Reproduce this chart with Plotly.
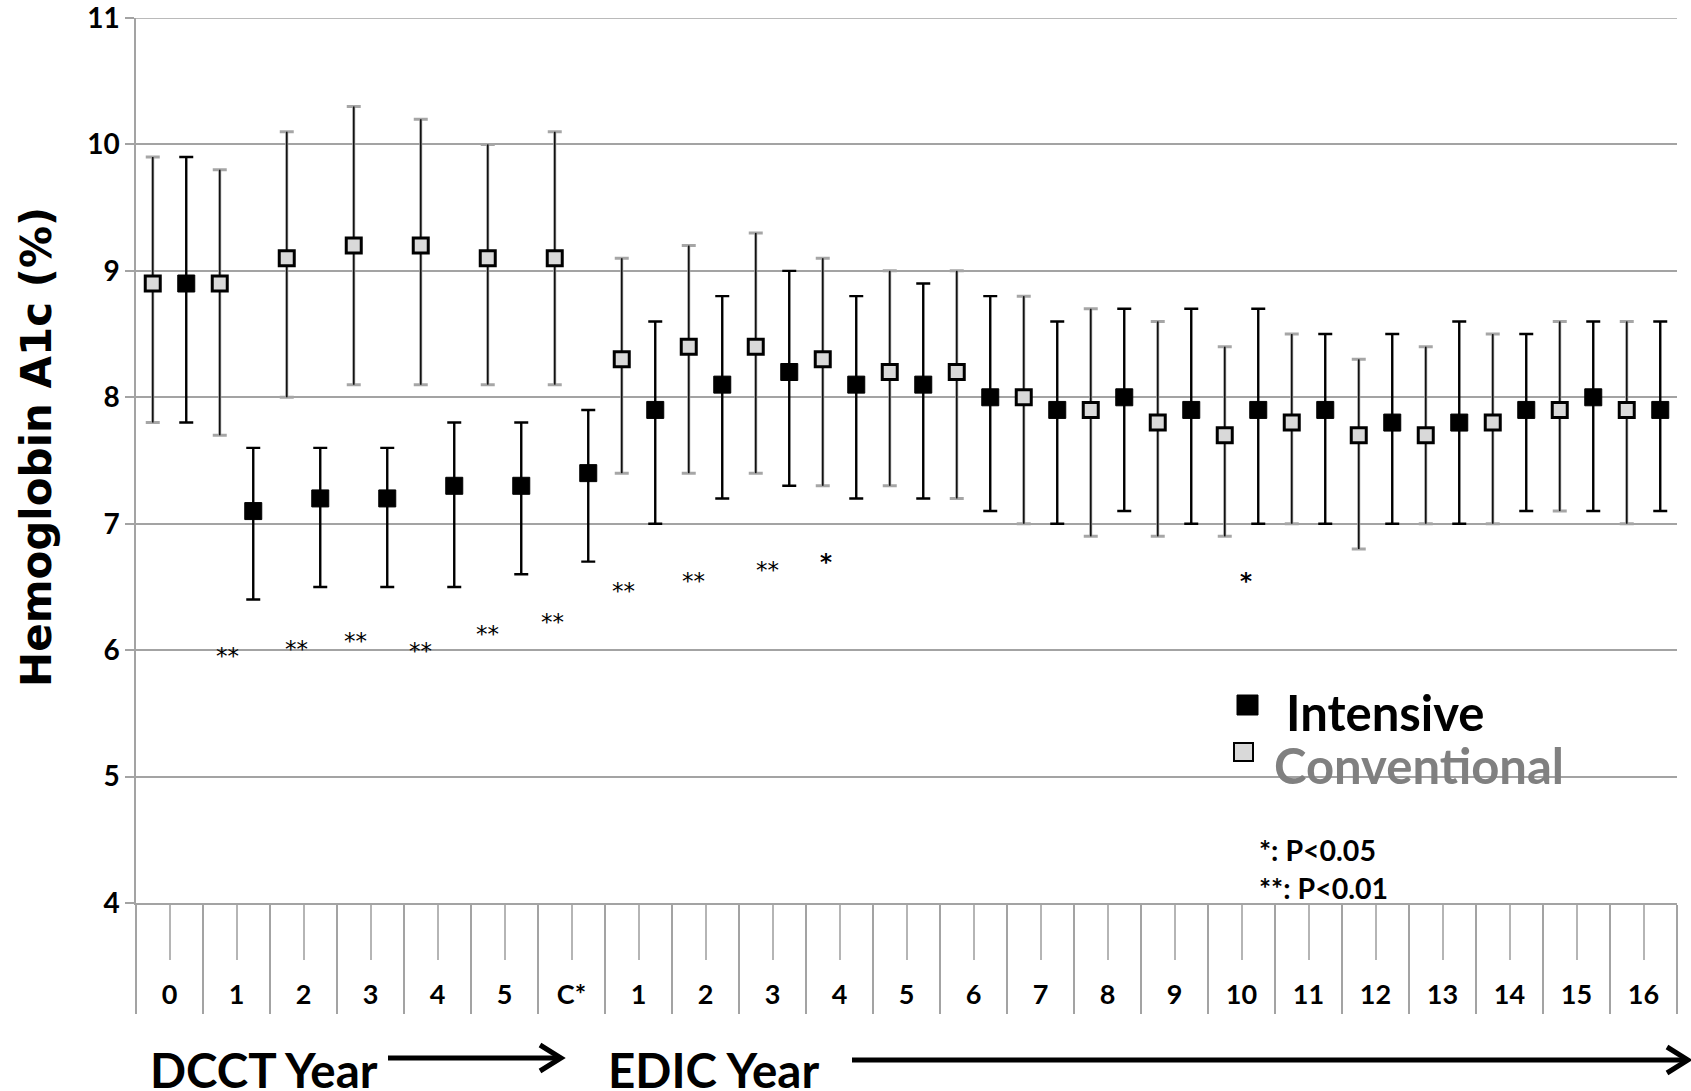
import plotly.graph_objects as go

# ---- data -------------------------------------------------------------
periods = ["0", "1", "2", "3", "4", "5", "C*"] + [str(i) for i in range(1, 17)]

conv_mean = [8.9, 8.9, 9.1, 9.2, 9.2, 9.1, 9.1, 8.3, 8.4, 8.4, 8.3, 8.2,
             8.2, 8.0, 7.9, 7.8, 7.7, 7.8, 7.7, 7.7, 7.8, 7.9, 7.9]
conv_low = [7.8, 7.7, 8.0, 8.1, 8.1, 8.1, 8.1, 7.4, 7.4, 7.4, 7.3, 7.3,
            7.2, 7.0, 6.9, 6.9, 6.9, 7.0, 6.8, 7.0, 7.0, 7.1, 7.0]
conv_high = [9.9, 9.8, 10.1, 10.3, 10.2, 10.0, 10.1, 9.1, 9.2, 9.3, 9.1, 9.0,
             9.0, 8.8, 8.7, 8.6, 8.4, 8.5, 8.3, 8.4, 8.5, 8.6, 8.6]

int_mean = [8.9, 7.1, 7.2, 7.2, 7.3, 7.3, 7.4, 7.9, 8.1, 8.2, 8.1, 8.1,
            8.0, 7.9, 8.0, 7.9, 7.9, 7.9, 7.8, 7.8, 7.9, 8.0, 7.9]
int_low = [7.8, 6.4, 6.5, 6.5, 6.5, 6.6, 6.7, 7.0, 7.2, 7.3, 7.2, 7.2,
           7.1, 7.0, 7.1, 7.0, 7.0, 7.0, 7.0, 7.0, 7.1, 7.1, 7.1]
int_high = [9.9, 7.6, 7.6, 7.6, 7.8, 7.8, 7.9, 8.6, 8.8, 9.0, 8.8, 8.9,
            8.8, 8.6, 8.7, 8.7, 8.7, 8.5, 8.5, 8.6, 8.5, 8.6, 8.6]

# significance marks (x in period units, y in % A1c)
sig_x = [0.86, 1.90, 2.78, 3.75, 4.74, 5.71, 6.78, 7.82, 8.93, 9.80, 16.07]
sig_y = [5.98, 6.03, 6.10, 6.02, 6.15, 6.25, 6.49, 6.57, 6.66, 6.72, 6.57]
sig_text = ["**"] * 9 + ["*", "*"]

Y_MIN, Y_MAX = 4, 11

# ---- geometry ---------------------------------------------------------
W, H = 1691, 1091
ML, MR, MT, MB = 136, 14, 18, 188
PW, PH = W - ML - MR, H - MT - MB


def px(x):
    return (x - ML) / PW


def py(y):
    return (H - MB - y) / PH


n = len(periods)
x_conv = [i - 0.25 for i in range(n)]
x_int = [i + 0.25 for i in range(n)]

conv_up = [h - m for h, m in zip(conv_high, conv_mean)]
conv_dn = [m - l for m, l in zip(conv_mean, conv_low)]
int_up = [h - m for h, m in zip(int_high, int_mean)]
int_dn = [m - l for m, l in zip(int_mean, int_low)]

CONV_FILL = "#d9d9d9"
GRID = "#a3a3a3"
invisible = dict(size=1, color="rgba(0,0,0,0)")

fig = go.Figure()

# conventional: grey caps, then a thin black stem on top, then the squares
fig.add_trace(go.Scatter(
    x=x_conv, y=conv_mean, mode="markers", marker=invisible,
    error_y=dict(type="data", symmetric=False, array=conv_up, arrayminus=conv_dn,
                 color="#a6a6a6", thickness=3, width=7),
    hoverinfo="skip", showlegend=False))
fig.add_trace(go.Scatter(
    x=x_conv, y=conv_mean, mode="markers", marker=invisible,
    error_y=dict(type="data", symmetric=False, array=conv_up, arrayminus=conv_dn,
                 color="#111111", thickness=1.6, width=0),
    hoverinfo="skip", showlegend=False))
fig.add_trace(go.Scatter(
    x=x_conv, y=conv_mean, mode="markers", name="Conventional",
    marker=dict(symbol="square", size=15, color=CONV_FILL,
                line=dict(color="black", width=3)),
    showlegend=False))

# intensive: black bars and squares
fig.add_trace(go.Scatter(
    x=x_int, y=int_mean, mode="markers", name="Intensive",
    marker=dict(symbol="square", size=17, color="black",
                line=dict(color="black", width=1)),
    error_y=dict(type="data", symmetric=False, array=int_up, arrayminus=int_dn,
                 color="black", thickness=2.4, width=7),
    showlegend=False))

annotations = []
for sx, sy, st in zip(sig_x, sig_y, sig_text):
    annotations.append(dict(
        x=sx, y=sy, xref="x", yref="y", text=st, showarrow=False,
        xanchor="center", yanchor="middle", yshift=-3,
        font=dict(family="DejaVu Sans", size=23, color="black",
                  weight="bold" if st == "*" else "normal")))


def label(text, x, y, size, color="black", family="Lato", angle=0, anchor="left"):
    annotations.append(dict(
        x=px(x), y=py(y), xref="paper", yref="paper", text=text,
        showarrow=False, xanchor=anchor, yanchor="middle", textangle=angle,
        font=dict(family=family, size=size, color=color, weight="bold")))


# y-axis title
label("Hemoglobin A1c (%)", 36, 447, 42, family="DejaVu Sans", angle=-90, anchor="center")
# legend and p-value key
label("Intensive", 1284, 712, 49)
label("Conventional", 1272, 765, 49, color="#808080")
label("*: P<0.05", 1257, 850, 28.5)
label("**: P<0.01", 1257, 888, 28.5)
# period captions
label("DCCT Year", 148, 1069, 47.5)
label("EDIC Year", 606, 1069, 47.5)

shapes = [
    # top grid line (the axis skips grid lines on the plot edge)
    dict(type="line", xref="paper", yref="y", x0=0, x1=1, y0=Y_MAX, y1=Y_MAX,
         line=dict(color=GRID, width=1.5), layer="below"),
    # legend swatches
    dict(type="rect", xref="paper", yref="paper",
         x0=px(1237), x1=px(1258), y0=py(695), y1=py(715),
         fillcolor="black", line=dict(color="black", width=1)),
    dict(type="rect", xref="paper", yref="paper",
         x0=px(1234), x1=px(1253), y0=py(743), y1=py(761),
         fillcolor=CONV_FILL, line=dict(color="black", width=2)),
]


def arrow(x0, x1, y):
    shapes.append(dict(type="line", xref="paper", yref="paper",
                       x0=px(x0), x1=px(x1 - 2), y0=py(y), y1=py(y),
                       line=dict(color="black", width=5)))
    shapes.append(dict(
        type="path", xref="paper", yref="paper",
        path=f"M {px(x1 - 21)},{py(y - 13)} L {px(x1)},{py(y)} L {px(x1 - 21)},{py(y + 13)}",
        line=dict(color="black", width=5)))


arrow(388, 561, 1058)
arrow(852, 1688, 1060)

fig.update_layout(
    width=W, height=H,
    margin=dict(l=ML, r=MR, t=MT, b=MB, pad=0, autoexpand=False),
    paper_bgcolor="white", plot_bgcolor="white",
    showlegend=False,
    annotations=annotations,
    shapes=shapes,
    xaxis=dict(
        range=[-0.5, n - 0.5], tickmode="array", tickvals=list(range(n)),
        ticktext=periods, ticks="outside", ticklen=55, tickwidth=1.5,
        tickcolor="#b5b5b5", showgrid=False, zeroline=False, automargin=False,
        showline=True, linecolor=GRID, linewidth=1.5,
        tickfont=dict(family="Lato", size=27, color="black", weight="bold"),
        ticklabelstandoff=12,
        minor=dict(tickmode="array", tickvals=[i - 0.5 for i in range(n + 1)],
                   ticks="outside", ticklen=109, tickwidth=1.5,
                   tickcolor=GRID, showgrid=False),
    ),
    yaxis=dict(
        range=[Y_MIN, Y_MAX], tickmode="linear", tick0=Y_MIN, dtick=1,
        ticks="outside", ticklen=9, tickwidth=1.5, tickcolor=GRID,
        showgrid=True, gridcolor=GRID, gridwidth=1.5, zeroline=False,
        showline=True, linecolor=GRID, linewidth=1.5, automargin=False,
        tickfont=dict(family="Lato", size=28, color="black", weight="bold"),
        ticklabelstandoff=0, ticklabeloverflow="allow",
    ),
)

fig.write_html("out.html")
